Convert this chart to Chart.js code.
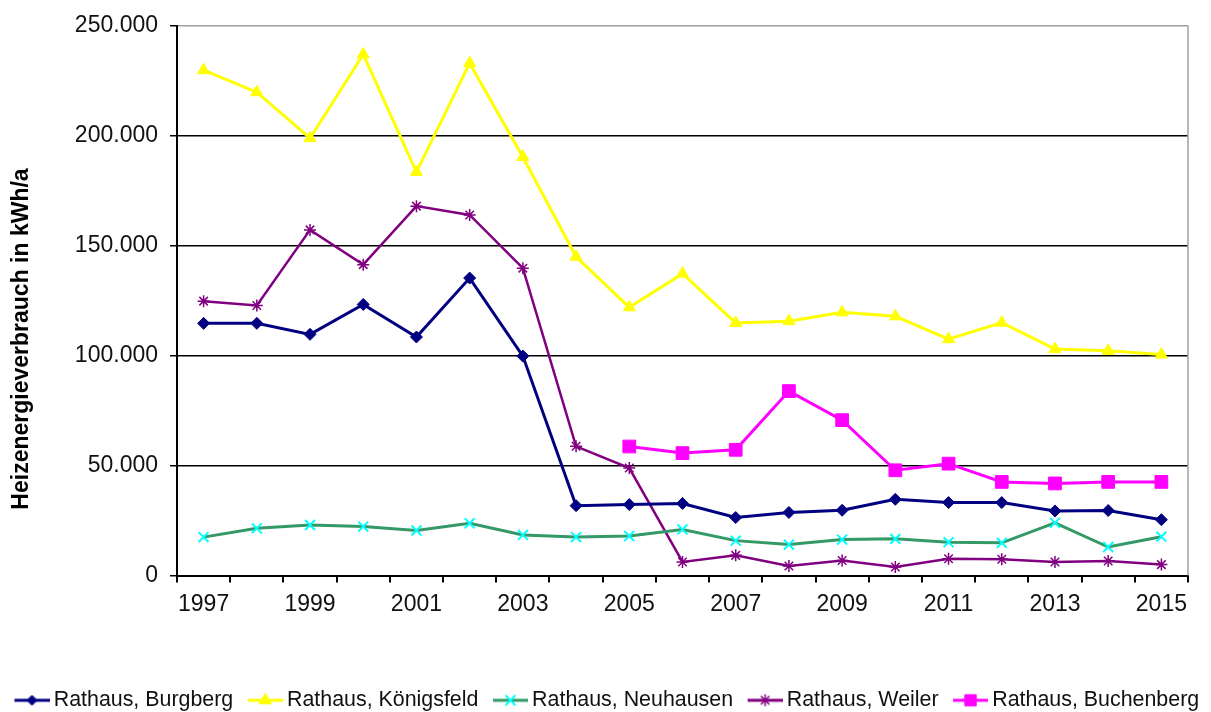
<!DOCTYPE html>
<html>
<head>
<meta charset="utf-8">
<script src="https://cdn.jsdelivr.net/npm/chart.js@4.4.1/dist/chart.umd.min.js"></script>
<style>
html,body{margin:0;padding:0;background:#fff;}
#wrap{width:1211px;height:712px;position:relative;}
</style>
</head>
<body>
<div id="wrap"><canvas id="c" width="1211" height="712"></canvas></div>
<script>
const years = ['1997','1998','1999','2000','2001','2002','2003','2004','2005','2006','2007','2008','2009','2010','2011','2012','2013','2014','2015'];
const burgberg    = [114700,114700,109700,123300,108500,135300,99800,31800,32300,32800,26400,28700,29700,34700,33200,33200,29400,29600,25400];
const koenigsfeld = [229800,219800,198900,237000,183500,233000,190300,145000,122000,137300,114900,115700,119700,117900,107500,115000,103000,102200,100500];
const neuhausen   = [17500,21500,23000,22300,20500,23800,18500,17500,18000,21000,15900,14100,16400,16700,15200,14900,24000,13000,17700];
const weiler      = [124800,122800,157200,141400,168000,164000,139800,58800,48900,6200,9200,4400,6900,3900,7700,7400,6200,6600,5000];
const buchenberg  = [null,null,null,null,null,null,null,null,58700,55700,57200,83900,70700,47900,50900,42600,41900,42600,42600];
const seriesNames = ['Rathaus, Burgberg','Rathaus, Königsfeld','Rathaus, Neuhausen','Rathaus, Weiler','Rathaus, Buchenberg'];
const yTickValues = [0,50000,100000,150000,200000,250000];
const yTitle = 'Heizenergieverbrauch in kWh/a';

const FONT = '"Liberation Sans", Arial, sans-serif';

function fmt(v){ return String(v).replace(/\B(?=(\d{3})+(?!\d))/g,'.'); }

function drawShape(ctx, style, x, y, r, fill, stroke, bw){
  ctx.save();
  ctx.fillStyle = fill; ctx.strokeStyle = stroke; ctx.lineWidth = bw;
  ctx.beginPath();
  if (style === 'rectRot'){
    ctx.moveTo(x - r, y); ctx.lineTo(x, y - r); ctx.lineTo(x + r, y); ctx.lineTo(x, y + r); ctx.closePath();
    ctx.fill(); ctx.stroke();
  } else if (style === 'triangle'){
    ctx.moveTo(x, y - r); ctx.lineTo(x + r*0.866, y + r*0.5); ctx.lineTo(x - r*0.866, y + r*0.5); ctx.closePath();
    ctx.fill(); ctx.stroke();
  } else if (style === 'rect'){
    const s = r * Math.SQRT1_2;
    ctx.rect(x - s, y - s, 2*s, 2*s); ctx.fill(); ctx.stroke();
  } else if (style === 'crossRot'){
    const o = r * Math.SQRT1_2;
    ctx.moveTo(x-o,y-o); ctx.lineTo(x+o,y+o); ctx.moveTo(x-o,y+o); ctx.lineTo(x+o,y-o); ctx.stroke();
  } else if (style === 'star'){
    const o = r * Math.SQRT1_2;
    ctx.moveTo(x-o,y-o); ctx.lineTo(x+o,y+o); ctx.moveTo(x-o,y+o); ctx.lineTo(x+o,y-o);
    ctx.moveTo(x,y-r); ctx.lineTo(x,y+r); ctx.moveTo(x-r,y); ctx.lineTo(x+r,y); ctx.stroke();
  }
  ctx.restore();
}

const ICON_W = 56, LINE_W = 35;
function legendIcon(lineColor, style, fill, stroke, r, bw){
  const cv = document.createElement('canvas');
  cv.width = ICON_W; cv.height = 18;
  const ctx = cv.getContext('2d');
  ctx.strokeStyle = lineColor; ctx.lineWidth = 3;
  ctx.beginPath(); ctx.moveTo(ICON_W - LINE_W, 9); ctx.lineTo(ICON_W, 9); ctx.stroke();
  drawShape(ctx, style, ICON_W - LINE_W / 2, 9, r, fill, stroke, bw);
  return cv;
}

const styles = [
  {line:'#000080', pt:'rectRot',  fill:'#000080', stroke:'#000080', r:6, bw:1, lw:3,  lr:5},
  {line:'#FFFF00', pt:'triangle', fill:'#FFFF00', stroke:'#FFFF00', r:7, bw:1, lw:3,  lr:7},
  {line:'#339966', pt:'crossRot', fill:'#00FFFF', stroke:'#00FFFF', r:7, bw:2, lw:3,  lr:7},
  {line:'#800080', pt:'star',     fill:'#800080', stroke:'#800080', r:6, bw:1.5, lw:2.5, lr:6},
  {line:'#FF00FF', pt:'rect',     fill:'#FF00FF', stroke:'#FF00FF', r:9, bw:1, lw:3,  lr:8}
];
const dataArrays = [burgberg, koenigsfeld, neuhausen, weiler, buchenberg];

const datasets = dataArrays.map((d, i) => ({
  label: seriesNames[i],
  data: d,
  yAxisID: 'y',
  borderColor: styles[i].line,
  backgroundColor: styles[i].fill,
  borderWidth: styles[i].lw,
  pointStyle: styles[i].pt,
  pointRadius: styles[i].r,
  pointHoverRadius: styles[i].r,
  pointBackgroundColor: styles[i].fill,
  pointBorderColor: styles[i].stroke,
  pointBorderWidth: styles[i].bw,
  tension: 0,
  spanGaps: false,
  fill: false
}));

const icons = styles.map(s => legendIcon(s.line, s.pt, s.fill, s.stroke, s.lr, s.bw));

const decorations = {
  id: 'decorations',
  afterDatasetsDraw(chart){
    const {ctx, chartArea:a} = chart;
    ctx.save();
    ctx.strokeStyle = '#a0a0a0'; ctx.lineWidth = 1.5;
    ctx.beginPath(); ctx.moveTo(a.right, a.top); ctx.lineTo(a.right, a.bottom); ctx.stroke();
    ctx.restore();
  },
  afterDraw(chart){
    const ctx = chart.ctx;
    ctx.save();
    ctx.translate(22, 339);
    ctx.rotate(-Math.PI / 2);
    ctx.font = 'bold 23px ' + FONT;
    ctx.fillStyle = '#000';
    ctx.textAlign = 'center';
    ctx.textBaseline = 'middle';
    ctx.fillText(yTitle, 0, 0);
    ctx.restore();
  }
};

new Chart(document.getElementById('c'), {
  type: 'line',
  data: { labels: years, datasets },
  plugins: [decorations],
  options: {
    responsive: false,
    animation: false,
    layout: { padding: { left: 0, right: 0, top: 22, bottom: -9 } },
    plugins: {
      tooltip: { enabled: false },
      legend: {
        position: 'bottom',
        align: 'start',
        labels: {
          usePointStyle: true,
          pointStyleWidth: 43,
          padding: 0,
          color: '#111',
          font: { family: FONT, size: 21.4 },
          generateLabels(chart){
            return chart.data.datasets.map((ds, i) => ({
              text: ds.label, datasetIndex: i, hidden: false,
              pointStyle: icons[i], fillStyle: ds.borderColor, strokeStyle: ds.borderColor, lineWidth: 0,
              fontColor: '#111'
            }));
          }
        }
      }
    },
    scales: {
      x: {
        offset: true,
        afterFit(scale){ scale.height = 114; },
        grid: { offset: true, drawOnChartArea: false, drawTicks: true, tickLength: 7, color: '#000', lineWidth: 2 },
        border: { display: true, color: '#000', width: 2 },
        ticks: {
          autoSkip: false, maxRotation: 0, minRotation: 0, padding: 8,
          color: '#111', font: { family: FONT, size: 23 },
          callback(v, i){ return i % 2 === 0 ? years[i] : ''; }
        }
      },
      y: {
        min: 0, max: 250000,
        afterFit(scale){ scale.width = 177; },
        afterBuildTicks(scale){ scale.ticks = yTickValues.map(v => ({ value: v })); },
        grid: {
          drawTicks: true, tickLength: 7, tickColor: '#000', tickWidth: 1.5,
          color(ctx){ return ctx.tick && ctx.tick.value === 250000 ? '#a0a0a0' : '#000'; },
          lineWidth: 1.5
        },
        border: { display: true, color: '#000', width: 2 },
        ticks: {
          padding: 12, color: '#111', font: { family: FONT, size: 23 },
          callback(v){ return fmt(v); }
        },
        title: { display: false }
      },
      yR: {
        position: 'right',
        display: true,
        min: 0, max: 1,
        afterFit(scale){ scale.width = 23; },
        grid: { display: false, drawTicks: false },
        border: { display: false },
        ticks: { display: false }
      }
    }
  }
});
</script>
</body>
</html>
